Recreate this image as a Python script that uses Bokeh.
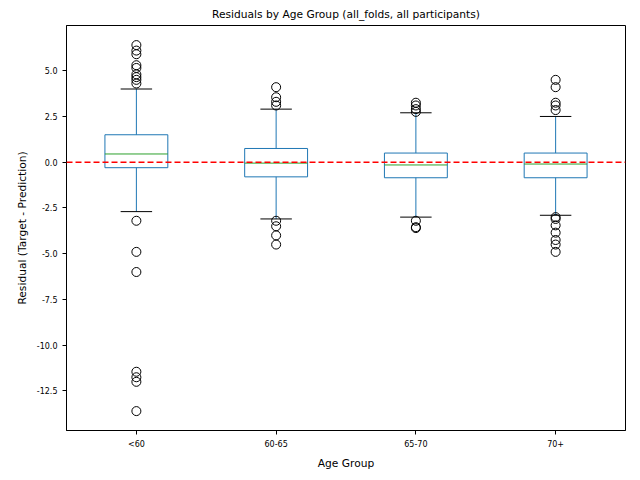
from bokeh.plotting import figure
from bokeh.models import FixedTicker, Span
from bokeh.embed import file_html
from bokeh.resources import INLINE

groups = ["<60", "60-65", "65-70", "70+"]
q1 = [-0.3, -0.8, -0.85, -0.85]
q3 = [1.5, 0.75, 0.5, 0.5]
med = [0.45, -0.05, -0.15, -0.1]
whisk_hi = [4.0, 2.9, 2.7, 2.5]
whisk_lo = [-2.7, -3.1, -3.0, -2.9]
outliers = [
    [6.4, 6.1, 5.9, 5.3, 5.15, 4.8, 4.65, 4.5, 4.3, -3.2, -4.9, -6.0, -11.45, -11.75, -12.0, -13.6],
    [4.1, 3.55, 3.3, 3.1, -3.2, -3.5, -4.0, -4.5],
    [3.25, 3.1, 2.9, 2.75, -3.2, -3.55, -3.6],
    [4.5, 4.1, 3.25, 3.1, 2.85, -3.0, -3.1, -3.45, -3.85, -4.25, -4.5, -4.9],
]

xs = list(range(1, len(groups) + 1))
p = figure(width=632, height=472, output_backend="svg", toolbar_location=None,
           x_range=(0.5, 4.5), y_range=(-14.66, 7.47),
           title="Residuals by Age Group (all_folds, all participants)",
           min_border_left=66, min_border_right=7, min_border_top=22, min_border_bottom=41)
p.title.align = "center"
p.title.text_font = "DejaVu Sans"
p.title.text_font_size = "8pt"
p.title.text_font_style = "normal"
p.title.text_color = "black"
p.grid.visible = False
p.outline_line_color = "black"

p.vbar(x=xs, bottom=q1, top=q3, width=0.45, fill_color=None, line_color="#1f77b4")
p.segment(x0=xs, x1=xs, y0=q3, y1=whisk_hi, line_color="#1f77b4")
p.segment(x0=xs, x1=xs, y0=q1, y1=whisk_lo, line_color="#1f77b4")
p.segment(x0=[x - 0.1125 for x in xs], x1=[x + 0.1125 for x in xs], y0=whisk_hi, y1=whisk_hi, line_color="black")
p.segment(x0=[x - 0.1125 for x in xs], x1=[x + 0.1125 for x in xs], y0=whisk_lo, y1=whisk_lo, line_color="black")
p.segment(x0=[x - 0.225 for x in xs], x1=[x + 0.225 for x in xs], y0=med, y1=med, line_color="#2ca02c")

ox, oy = [], []
for x, vals in zip(xs, outliers):
    ox += [x] * len(vals)
    oy += vals
p.scatter(ox, oy, size=9, fill_color=None, line_color="black")

p.add_layout(Span(location=0, dimension="width", line_color="red", line_dash="6 3", line_width=1.5))

p.xaxis.ticker = FixedTicker(ticks=xs)
p.xaxis.major_label_overrides = {x: g for x, g in zip(xs, groups)}
p.yaxis.ticker = FixedTicker(ticks=[-12.5, -10.0, -7.5, -5.0, -2.5, 0.0, 2.5, 5.0])
p.yaxis.major_label_overrides = {v: f"{v:.1f}" for v in [-12.5, -10.0, -7.5, -5.0, -2.5, 0.0, 2.5, 5.0]}
p.xaxis.axis_label = "Age Group"
p.yaxis.axis_label = "Residual (Target - Prediction)"
for ax in (p.xaxis, p.yaxis):
    ax.minor_tick_line_color = None
    ax.major_label_text_font_size = "6pt"
    ax.axis_label_text_font_size = "8pt"
    ax.axis_label_text_font_style = "normal"
    ax.axis_label_text_font = "DejaVu Sans"
    ax.major_label_text_font = "DejaVu Sans"
    ax.major_label_text_color = "black"
    ax.axis_label_text_color = "black"
    ax.axis_line_color = "black"
    ax.major_tick_line_color = "black"
    ax.major_tick_in = 0
    ax.major_tick_out = 4

open("out.html", "w").write(file_html(p, INLINE))
